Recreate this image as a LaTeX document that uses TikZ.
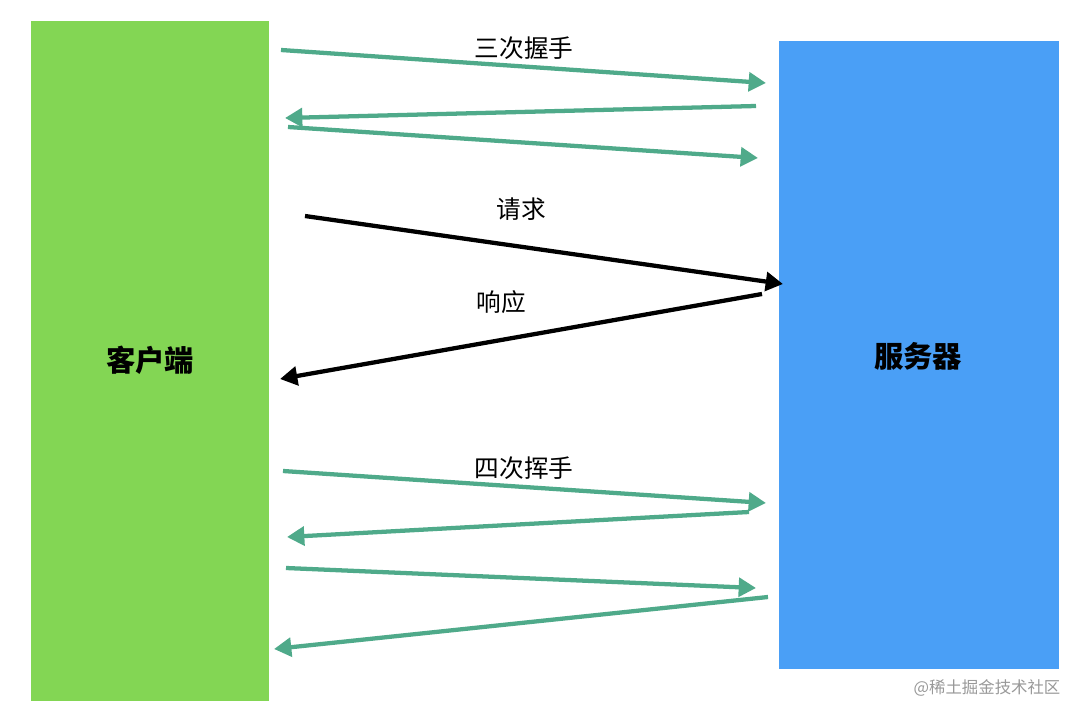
\documentclass[tikz,border=0pt]{standalone}
\usepackage{fontspec}
\setmainfont{Noto Sans CJK SC}
\usetikzlibrary{arrows.meta}
\definecolor{cgreen}{HTML}{83D654}
\definecolor{cblue}{HTML}{4A9FF6}
\definecolor{cteal}{HTML}{4FAA8A}
\tikzset{
  box/.style={inner sep=0pt, outer sep=0pt},
  tealarrow/.style={draw=cteal, line width=3.2pt, -{Triangle[length=13pt,width=14pt]}},
  blackarrow/.style={draw=black, line width=3.2pt, -{Triangle[length=13pt,width=14pt]}},
  lbl/.style={font=\fontsize{18.5pt}{20pt}\selectfont, inner sep=0pt},
  big/.style={font=\fontsize{22pt}{24pt}\selectfont\bfseries, inner sep=0pt}
}
\begin{document}
\begin{tikzpicture}[x=0.75pt,y=-0.75pt]
\useasboundingbox (0,0) rectangle (1080,716);
\fill[white] (0,0) rectangle (1080,716);
\fill[cgreen] (31,21) rectangle (269,701);
\fill[cblue] (779,41) rectangle (1059,669);
\node[big] (client) at (150,360) {客户端};
\node[big] (server) at (918,356) {服务器};
% three-way handshake
\coordinate (a1s) at (281,50); \coordinate (a1e) at (766,83);
\coordinate (a2s) at (756,106); \coordinate (a2e) at (285,118);
\coordinate (a3s) at (288,127); \coordinate (a3e) at (758,158);
\draw[tealarrow] (a1s) -- (a1e);
\draw[tealarrow] (a2s) -- (a2e);
\draw[tealarrow] (a3s) -- (a3e);
\node[lbl] (l1) at (524,48) {三次握手};
% request / response
\coordinate (rqs) at (305,216); \coordinate (rqe) at (783,284);
\coordinate (rss) at (762,294); \coordinate (rse) at (280,379);
\draw[blackarrow] (rqs) -- (rqe);
\draw[blackarrow] (rss) -- (rse);
\node[lbl] (lreq) at (521,209) {请求};
\node[lbl] (lres) at (501,302) {响应};
% four-way handshake
\coordinate (b1s) at (283,471); \coordinate (b1e) at (766,503);
\coordinate (b2s) at (749,512); \coordinate (b2e) at (287,537);
\coordinate (b3s) at (286,568); \coordinate (b3e) at (756,588);
\coordinate (b4s) at (768,597); \coordinate (b4e) at (274,649);
\draw[tealarrow] (b1s) -- (b1e);
\draw[tealarrow] (b2s) -- (b2e);
\draw[tealarrow] (b3s) -- (b3e);
\draw[tealarrow] (b4s) -- (b4e);
\node[lbl] (l2) at (524,468) {四次挥手};
% watermark
\node[font=\fontsize{12.3pt}{14pt}\selectfont, text=black!40, inner sep=0pt] (wm) at (987,688) {@稀土掘金技术社区};
\end{tikzpicture}
\end{document}
